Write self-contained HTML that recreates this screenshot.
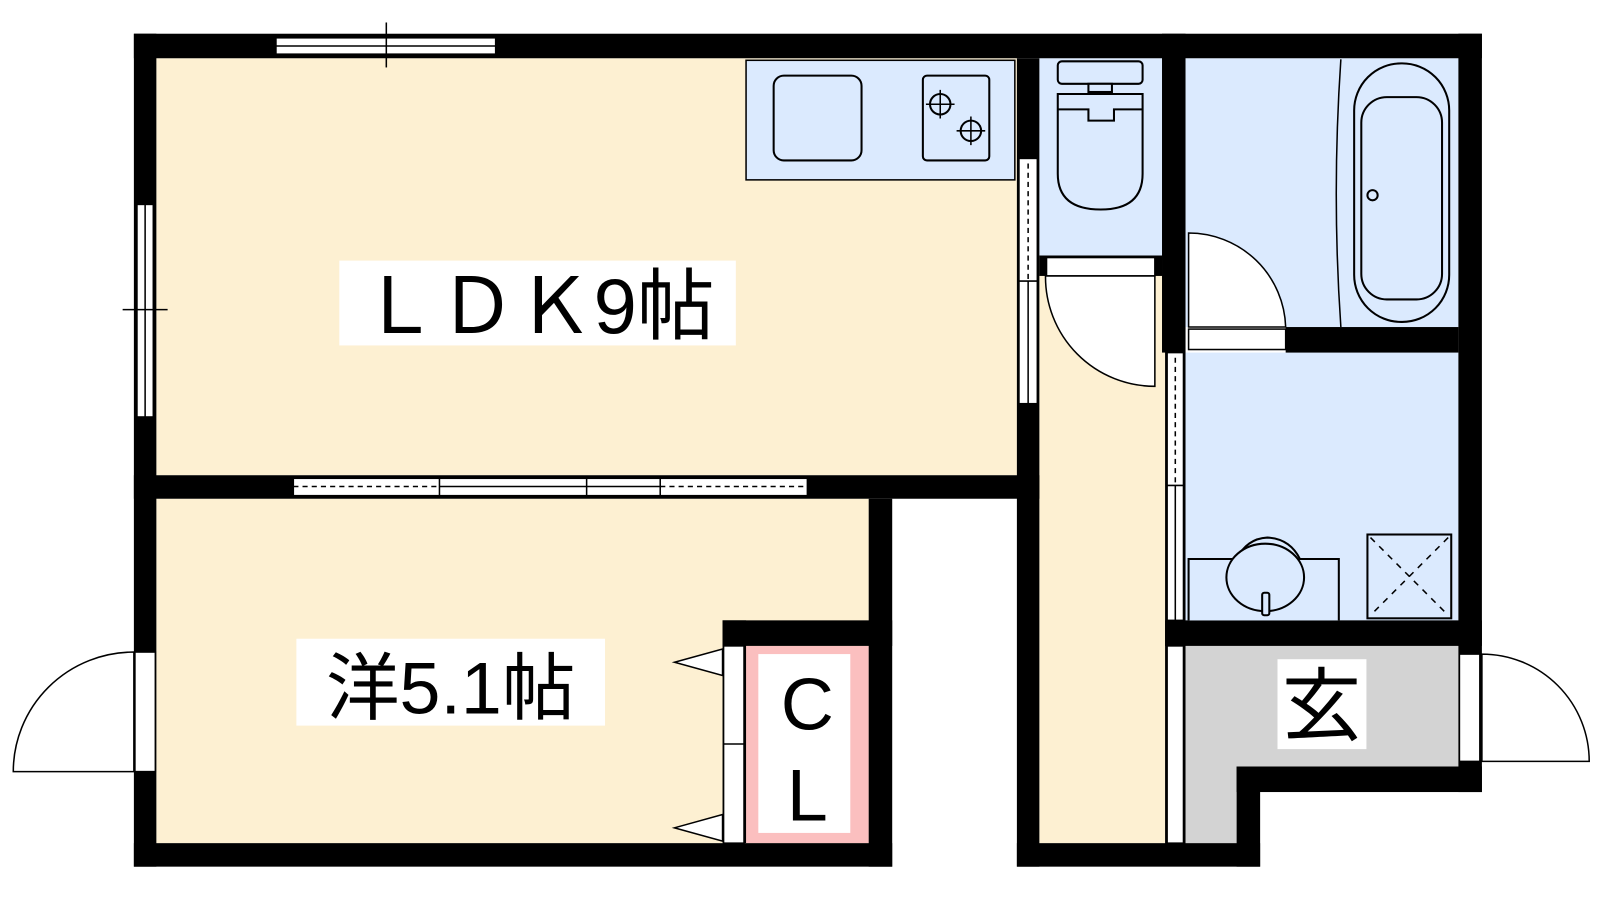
<!DOCTYPE html>
<html><head><meta charset="utf-8"><style>html,body{margin:0;padding:0;background:#fff;}svg{display:block}text{font-family:"Liberation Sans","Noto Sans CJK JP",sans-serif;}</style></head>
<body>
<svg width="1600" height="900" viewBox="0 0 1600 900" xmlns="http://www.w3.org/2000/svg">
<g transform="scale(1.022)">
<!-- floors -->
<rect x="153" y="57" width="842" height="408" fill="#fdf0d2"/>
<rect x="153" y="488" width="697" height="337" fill="#fdf0d2"/>
<rect x="1017" y="250" width="123" height="575" fill="#fdf0d2"/>
<rect x="1017" y="57" width="120" height="193" fill="#dbeafe"/>
<rect x="1160" y="57" width="267" height="263" fill="#dbeafe"/>
<rect x="1160" y="345" width="267" height="262" fill="#dbeafe"/>
<path d="M1160 632 H1427 V750 H1210 V825 H1160 Z" fill="#d3d3d3"/>
<rect x="730" y="632" width="120" height="193" fill="#fbbfbf"/>
<rect x="742" y="640" width="90" height="175" fill="#fff"/>
<!-- walls -->
<g fill="#000">
<rect x="131" y="33" width="1319" height="24"/>
<rect x="131" y="33" width="22" height="815"/>
<rect x="1427" y="33" width="23" height="742"/>
<rect x="131" y="825" width="742" height="23"/>
<rect x="850" y="488" width="23" height="360"/>
<rect x="131" y="465" width="886" height="23"/>
<rect x="995" y="57" width="22" height="791"/>
<rect x="1137" y="33" width="23" height="312"/>
<rect x="1140" y="320" width="20" height="512"/>
<rect x="1258" y="320" width="169" height="25"/>
<rect x="1140" y="607" width="310" height="25"/>
<rect x="1210" y="750" width="240" height="25"/>
<rect x="1210" y="750" width="23" height="98"/>
<rect x="995" y="825" width="238" height="23"/>
<rect x="707" y="607" width="166" height="25"/>
<rect x="707" y="607" width="23" height="218"/>
<rect x="1017" y="250" width="120" height="20"/>
</g>
<g stroke="#000" stroke-width="1.5" fill="#fff">
<rect x="270" y="37" width="215" height="16"/><line x1="270" y1="45" x2="485" y2="45"/><line x1="378" y1="22" x2="378" y2="66"/>
<rect x="134" y="200" width="16" height="208"/><line x1="142" y1="200" x2="142" y2="408"/><line x1="120" y1="303" x2="164" y2="303"/>
<rect x="287" y="468" width="503" height="17"/><line x1="430" y1="468" x2="430" y2="485"/><line x1="574" y1="468" x2="574" y2="485"/><line x1="646" y1="468" x2="646" y2="485"/>
<line x1="287" y1="476" x2="430" y2="476" stroke-dasharray="5,4"/><line x1="646" y1="476" x2="790" y2="476" stroke-dasharray="5,4"/><line x1="430" y1="476" x2="646" y2="476"/>
<rect x="997" y="155" width="18" height="240"/><line x1="1006" y1="160" x2="1006" y2="275" stroke-dasharray="5,4"/><line x1="997" y1="275" x2="1015" y2="275"/><line x1="1006" y1="275" x2="1006" y2="395"/>
<rect x="1142" y="345" width="16" height="262"/><line x1="1150" y1="350" x2="1150" y2="475" stroke-dasharray="5,4"/><line x1="1142" y1="475" x2="1158" y2="475"/><line x1="1150" y1="475" x2="1150" y2="607"/>
<rect x="1142" y="632" width="16" height="193"/>
<rect x="708" y="632" width="20" height="193"/><line x1="708" y1="728" x2="728" y2="728"/>
<polygon points="660,648 707,635 707,661"/><polygon points="660,810 707,797 707,823"/>
<rect x="1024" y="252" width="106" height="18"/>
<path d="M1023 270 A107 107 0 0 0 1130 378 V270 Z"/>
<rect x="1163" y="322" width="95" height="20"/>
<path d="M1163 228 A95 95 0 0 1 1258 320 H1163 Z"/>
<rect x="132" y="638" width="20" height="117"/>
<path d="M131 638 A118 117 0 0 0 13 755 H131 Z"/>
<rect x="1428" y="640" width="20" height="105"/>
<path d="M1450 640 A105 105 0 0 1 1555 745 H1450 Z"/>
</g>
<g stroke="#000" stroke-width="2" fill="#dbeafe">
<rect x="730" y="59" width="263" height="117" stroke-width="1.5"/>
<rect x="757" y="74" width="86" height="83" rx="10"/>
<rect x="903" y="74" width="65" height="83" rx="4"/>
<circle cx="920" cy="102" r="10"/><circle cx="950" cy="128" r="10"/>
<path d="M920 88 V116 M906 102 H934 M950 114 V142 M936 128 H964" stroke-width="1.5"/>
<rect x="1035" y="60" width="83" height="22" rx="4"/>
<rect x="1065" y="82" width="23" height="8"/>
<path d="M1035 92 H1118 V170 Q1118 205 1077 205 Q1035 205 1035 170 Z"/>
<path d="M1035 107 H1065 V118 H1090 V107 H1118" fill="none"/>
<path d="M1312 58 Q1303 190 1312 320" fill="none" stroke-width="1.5"/>
<rect x="1325" y="62" width="93" height="253" rx="46"/>
<rect x="1332" y="95" width="79" height="198" rx="25"/>
<circle cx="1343" cy="191" r="5"/>
<path d="M1163 607 V547 H1210 Q1220 527 1240 526 Q1262 527 1272 547 H1310 V607" fill="#dbeafe"/>
<ellipse cx="1238" cy="565" rx="38" ry="33"/>
<rect x="1235" y="580" width="7" height="22" rx="2"/>
<rect x="1338" y="523" width="82" height="82"/>
<path d="M1341 526 L1417 602 M1417 526 L1341 602" stroke-dasharray="6,6" stroke-width="1.5"/>
</g>
<rect x="332" y="255" width="388" height="83" fill="#fff"/>
<text x="526" y="326" font-size="76" text-anchor="middle">ＬＤＫ9帖</text>
<rect x="290" y="625" width="302" height="85" fill="#fff"/>
<text x="441" y="698" font-size="72" text-anchor="middle">洋5.1帖</text>
<text x="790" y="714" font-size="72" text-anchor="middle">C</text>
<text x="790" y="803" font-size="72" text-anchor="middle">L</text>
<rect x="1250" y="645" width="87" height="88" fill="#fff"/>
<text x="1293" y="718" font-size="78" text-anchor="middle">玄</text>
</g>
</svg>
</body></html>
